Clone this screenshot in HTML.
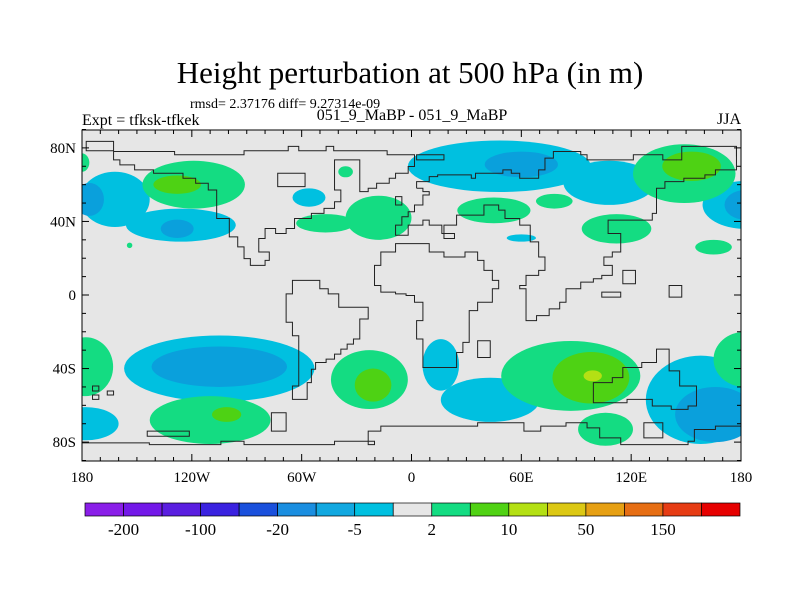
<!DOCTYPE html>
<html><head><meta charset="utf-8"><style>
body{margin:0;background:#fff}
svg text{font-family:"Liberation Serif",serif;fill:#000}
</style></head><body>
<svg id="c" width="800" height="600" xmlns="http://www.w3.org/2000/svg">
<rect width="800" height="600" fill="#fff"/>
<text x="410" y="83" font-size="31" text-anchor="middle">Height perturbation at 500 hPa (in m)</text>
<text x="190" y="108" font-size="14">rmsd= 2.37176 diff= 9.27314e-09</text>
<text x="82" y="125" font-size="16">Expt = tfksk-tfkek</text>
<text x="412" y="120" font-size="16" text-anchor="middle">051_9_MaBP - 051_9_MaBP</text>
<text x="741" y="124" font-size="16" text-anchor="end">JJA</text>
<defs><clipPath id="pc"><rect x="82" y="130" width="659" height="331"/></clipPath></defs>
<rect x="82" y="130" width="659" height="331" fill="#e6e6e6"/>
<g id="fills" clip-path="url(#pc)"></g>
<g clip-path="url(#pc)">
<g transform="translate(82,128) scale(0.42088,0.33501)" fill="none" stroke="#222" stroke-width="1">
<path vector-effect="non-scaling-stroke" d="M75 70 H220 V80 H385 V68 H490 V55 H515 V68 H580 V55 H598 V68 H725 V80 H790 V115 H775 V135 H745 V150 H730 V165 H700 V180 H680 V190 H660 V95 H600 V185 H615 V220 H600 V240 H575 V255 H545 V270 H505 V300 H485 V315 H460 V300 H435 V330 H420 V370 H445 V395 H435 V410 H400 V390 H385 V355 H370 V325 H350 V270 H320 V185 H300 V165 H270 V150 H240 V135 H170 V125 H125 V110 H90 V95 H75 Z"/>
<path vector-effect="non-scaling-stroke" d="M10 40 H75 V68 H10 Z"/>
<path vector-effect="non-scaling-stroke" d="M500 455 H565 V480 H585 V495 H610 V535 H680 V570 H660 V630 H645 V645 H630 V660 H615 V675 H600 V690 H580 V700 H555 V720 H545 V760 H535 V810 H500 V770 H515 V620 H500 V580 H485 V495 H500 Z"/>
<path vector-effect="non-scaling-stroke" d="M745 345 H825 V370 H860 V385 H910 V370 H940 V395 H955 V425 H975 V455 H990 V480 H975 V520 H940 V545 H920 V640 H905 V670 H890 V715 H810 V630 H795 V575 H810 V520 H790 V500 H770 V495 H745 V490 H710 V470 H695 V410 H710 V370 H745 Z"/>
<path vector-effect="non-scaling-stroke" d="M795 180 V160 H825 V145 H845 V140 H925 V150 H935 V135 H1000 V125 H1020 V135 H1040 V150 H1085 V125 H1100 V90 H1120 V70 H1185 V80 H1200 V95 H1310 V80 H1380 V95 H1425 V55 H1555 V85"/>
<path vector-effect="non-scaling-stroke" d="M795 80 H860 V95 H795 Z"/>
<path vector-effect="non-scaling-stroke" d="M795 180 H810 V190 H825 V200 H810 V230 H790 V250 H775 V265 H760 V290 H745 V320 H775 V290 H810 V275 H825 V290 H855 V315 H885 V330 H860 V290 H890 V260 H955 V230 H990 V245 H1005 V270 H1040 V290 H1065 V340 H1085 V385 H1100 V425 H1085 V440 H1055 V470 H1040 V480 H1055 V575 H1080 V560 H1110 V540 H1135 V520 H1150 V480 H1185 V460 H1215 V450 H1235 V440 H1260 V410 H1240 V385 H1260 V370 H1280 V315 H1250 V275 H1355 V255 H1365 V180 H1385 V160 H1430 V150 H1480 V140 H1505 V125 H1555 V60"/>
<path vector-effect="non-scaling-stroke" d="M1215 760 H1260 V745 H1285 V715 H1330 V700 H1365 V660 H1395 V725 H1420 V770 H1460 V830 H1440 V840 H1400 V830 H1355 V810 H1295 V820 H1215 Z"/>
<path vector-effect="non-scaling-stroke" d="M0 940 H160 V945 H330 V935 H385 V945 H600 V935 H695 V945 H680 V905 H710 V890 H940 V880 H1050 V905 H1090 V890 H1150 V880 H1200 V895 H1230 V925 H1280 V945 H1440 V935 H1455 V900 H1505 V890 H1568"/>
<path vector-effect="non-scaling-stroke" d="M155 905 H255 V920 H155 Z M940 635 H970 V685 H940 Z M1285 425 H1315 V465 H1285 Z M1235 490 H1280 V505 H1235 Z M1395 470 H1425 V505 H1395 Z M465 135 H530 V175 H465 Z M745 205 H760 V230 H745 Z M450 850 H485 V905 H450 Z M1335 880 H1380 V925 H1335 Z M25 770 H40 V785 H25 Z M60 785 H75 V797 H60 Z M25 797 H40 V810 H25 Z"/>
</g></g>
<rect x="82" y="130" width="659" height="331" fill="none" stroke="#000" stroke-width="1"/>
<g id="axes"></g>
<g id="cbar"></g>
</svg>
<script>
const NS="http://www.w3.org/2000/svg";
// contour blobs: lon, lat, half-width (deg lon), half-height (deg lat), level index
const blobLon=[-162,-126,-176,-128,-119,-128,-18,-47,-56,-36,48,108,60,45,78,60,112,149,153,182,182,165,-180,-154,
  -105,-105,-178,-178,-110,-101,-23,-21,16,43,87,106,98,99,158,166,182];
const blobLat=[52,38,52,36,60,60,42,39,53,67,70,61,71,46,51,31,36,66,70,49,49,26,72,27,
  -40,-39,-39,-70,-68,-65,-46,-49,-38,-57,-44,-73,-45,-44,-57,-65,-35];
const blobDx=[19,30,8,9,28,13,18,16,9,4,50,25,20,20,10,8,19,28,16,23,11,10,4,1.5,
  52,37,15,18,33,8,21,10,10,27,38,15,21,5,30,22,17];
const blobDy=[15,9,9,5,13,5,12,5,5,3,14,12,7,7,4,2,8,16,8,13,8,4,5,1.5,
  18,11,16,9,13,4,16,9,14,12,19,9,14,3,24,15,15];
const blobLvl=[0,0,1,1,2,3,2,2,0,2,0,0,1,2,2,0,2,2,3,0,1,2,2,2,
  0,1,2,0,2,3,2,3,0,0,2,2,3,4,0,1,2];
const levelColors=["#00c0e0","#0aa0dc","#14dc82","#4ed214","#b4e014"];
const X=lon=>82+(lon+180)*659/360, Y=lat=>295-lat*331/180;
const fills=document.getElementById('fills');
const order=[0,2,1,3,4];
order.forEach(l=>{for(let i=0;i<blobLon.length;i++){if(blobLvl[i]!==l)continue;
  const e=document.createElementNS(NS,'ellipse');
  e.setAttribute('cx',X(blobLon[i]));e.setAttribute('cy',Y(blobLat[i]));
  e.setAttribute('rx',blobDx[i]*659/360);e.setAttribute('ry',blobDy[i]*331/180);
  e.setAttribute('fill',levelColors[l]);
  
  
  fills.appendChild(e);}});
// axes
const ax=document.getElementById('axes');
const xTicks=[-180,-120,-60,0,60,120,180], xLabels=["180","120W","60W","0","60E","120E","180"];
const yTicks=[80,40,0,-40,-80], yLabels=["80N","40N","0","40S","80S"];
function line(x1,y1,x2,y2){const l=document.createElementNS(NS,'line');l.setAttribute('x1',x1);l.setAttribute('y1',y1);l.setAttribute('x2',x2);l.setAttribute('y2',y2);l.setAttribute('stroke','#000');ax.appendChild(l);return l;}
for(let lon=-180;lon<=180;lon+=10){const m=lon%60===0?7:4;line(X(lon),130,X(lon),130+m);line(X(lon),461,X(lon),461-m);}
for(let lat=-90;lat<=90;lat+=10){const m=lat%40===0?7:4;line(82,Y(lat),82+m,Y(lat));line(741,Y(lat),741-m,Y(lat));}
xTicks.forEach((v,i)=>{const t=document.createElementNS(NS,'text');t.setAttribute('x',X(v));t.setAttribute('y',482);t.setAttribute('font-size','15');t.setAttribute('text-anchor','middle');t.textContent=xLabels[i];


ax.appendChild(t);});
yTicks.forEach((v,i)=>{const t=document.createElementNS(NS,'text');t.setAttribute('x',76);t.setAttribute('y',Y(v)+5);t.setAttribute('font-size','15');t.setAttribute('text-anchor','end');t.textContent=yLabels[i];


ax.appendChild(t);});
// colorbar
const cbColors=["#8a1ee8","#7318e8","#5a1ee0","#3a22e0","#1a50dc","#1a8ee0","#12a8e0","#00c0e0","#e6e6e6","#14dc82","#50d214","#b4e014","#dcc814","#e6a014","#e66e14","#e63c14","#e60000"];
const cbLabels=["-200","-100","-20","-5","2","10","50","150"];
const cb=document.getElementById('cbar');const w=655/17;
cbColors.forEach((c,i)=>{const r=document.createElementNS(NS,'rect');r.setAttribute('x',85+i*w);r.setAttribute('y',503);r.setAttribute('width',w);r.setAttribute('height',13);r.setAttribute('fill',c);r.setAttribute('stroke','#000');r.setAttribute('stroke-width','0.7');


cb.appendChild(r);});
cbLabels.forEach((s,i)=>{const t=document.createElementNS(NS,'text');t.setAttribute('x',85+(2*i+1)*w);t.setAttribute('y',535);t.setAttribute('font-size','17');t.setAttribute('text-anchor','middle');t.textContent=s;


cb.appendChild(t);});
</script>
</body></html>
